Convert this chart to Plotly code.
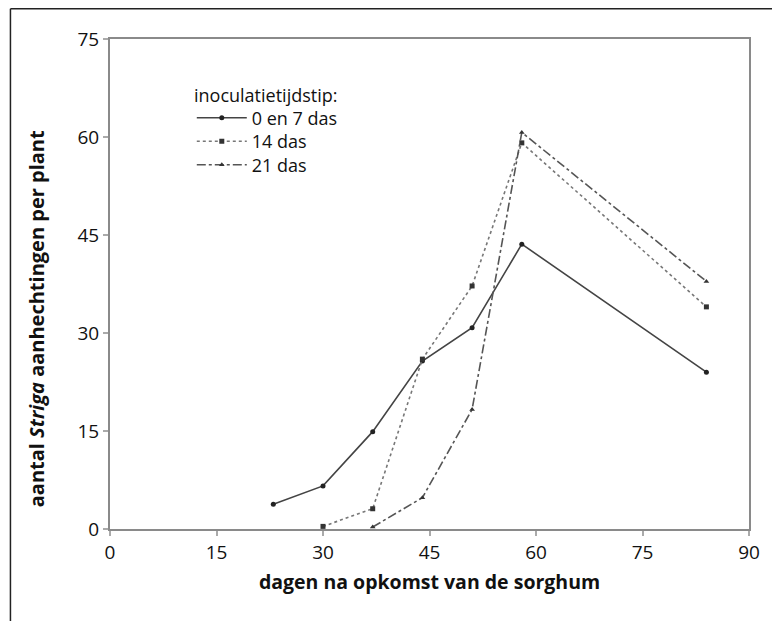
import plotly.graph_objects as go

days_a = [23, 30, 37, 44, 51, 58, 84]
vals_a = [3.8, 6.6, 14.9, 25.7, 30.8, 43.6, 24.0]
days_b = [30, 37, 44, 51, 58, 84]
vals_b = [0.4, 3.1, 26.0, 37.2, 59.1, 34.0]
days_c = [37, 44, 51, 58, 84]
vals_c = [0.3, 4.8, 18.3, 60.7, 37.9]
names = ["0 en 7 das", "14 das", "21 das"]
legend_title = "inoculatietijdstip:"
x_title = "<b>dagen na opkomst van de sorghum</b>"
y_title = "<b>aantal <i>Striga</i> aanhechtingen per plant</b>"
ticks = [0, 15, 30, 45, 60, 75, 90]

FONT = "Open Sans"
TXT = "#111111"
fig = go.Figure()
fig.add_trace(go.Scatter(x=days_a, y=vals_a, name=names[0], mode="lines+markers", legend="legend",
                         line=dict(color="#444444", width=1.6, dash="solid"),
                         marker=dict(symbol="circle", size=5, color="#222222")))
fig.add_trace(go.Scatter(x=days_b, y=vals_b, name=names[1], mode="lines+markers", legend="legend2",
                         line=dict(color="#777777", width=1.6, dash="dot"),
                         marker=dict(symbol="square", size=5, color="#333333")))
fig.add_trace(go.Scatter(x=days_c, y=vals_c, name=names[2], mode="lines+markers", legend="legend3",
                         line=dict(color="#555555", width=1.6, dash="dashdot"),
                         marker=dict(symbol="triangle-up", size=5, color="#333333")))

axis_common = dict(showline=True, linecolor="#8a8a8a", linewidth=2, mirror=True,
                   ticks="outside", ticklen=5, tickcolor="#aaaaaa", tickwidth=2,
                   showgrid=False, zeroline=False,
                   tickfont=dict(family=FONT, size=19, color=TXT))
fig.update_xaxes(range=[0, 90], tickvals=ticks, **axis_common,
                 title=dict(text=x_title, font=dict(family=FONT, size=19.5, color=TXT), standoff=12))
fig.update_yaxes(range=[0, 75], tickvals=ticks[:6], **axis_common)

leg = dict(x=0.128, xanchor="left", yanchor="middle", bgcolor="rgba(0,0,0,0)",
           font=dict(family=FONT, size=18, color=TXT), itemwidth=50)
fig.update_layout(
    width=764, height=613,
    margin=dict(l=102, r=12, t=31, b=92),
    plot_bgcolor="white", paper_bgcolor="white",
    legend=dict(y=(521 - 110) / 490, **leg),
    legend2=dict(y=(521 - 133.5) / 490, **leg),
    legend3=dict(y=(521 - 157) / 490, **leg),
    showlegend=True,
)
fig.add_annotation(text=legend_title, xref="paper", yref="paper",
                   x=0.128, y=(521 - 87) / 490, xanchor="left", yanchor="middle",
                   showarrow=False, font=dict(family=FONT, size=18, color=TXT))
fig.add_annotation(text=y_title, xref="paper", yref="paper", textangle=-90,
                   x=(27 - 102) / 650, y=(521 - 311) / 490, xanchor="center", yanchor="middle",
                   showarrow=False, font=dict(family=FONT, size=20, color=TXT))
fig.add_shape(type="line", xref="paper", yref="paper",
              x0=-0.1558, x1=-0.1558, y0=1.0617, y1=-0.3,
              line=dict(color="#222222", width=1.5))
fig.add_shape(type="line", xref="paper", yref="paper",
              x0=-0.1558, x1=1.1, y0=1.0617, y1=1.0617,
              line=dict(color="#222222", width=1.5))

fig.write_html("out.html")
